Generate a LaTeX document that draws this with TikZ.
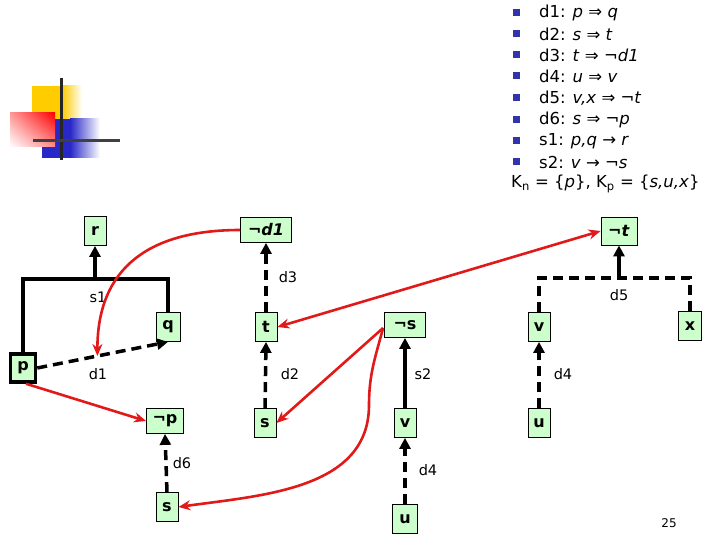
\documentclass[tikz,border=0pt]{standalone}
\usepackage{fontspec}
\setmainfont{DejaVu Sans}
\usetikzlibrary{arrows.meta,calc,shadings}
\definecolor{litgreen}{RGB}{204,255,204}
\definecolor{redline}{RGB}{225,25,25}
\definecolor{bulletblue}{RGB}{51,51,170}
\definecolor{logoyellow}{RGB}{255,204,0}
\definecolor{logoblue}{RGB}{40,40,200}
\tikzset{
  lit/.style={draw, fill=litgreen, line width=0.8pt, minimum width=22, minimum height=29, inner sep=0pt, font=\bfseries\fontsize{16}{16}\selectfont},
  neg/.style={lit, minimum height=25},
  conn/.style={line width=3.5pt},
  dsh/.style={conn, dash pattern=on 10pt off 6pt},
  tipped/.style={-{Triangle[length=11pt,width=11pt]}},
  redarr/.style={redline, line width=2.6pt, -{Stealth[length=12pt,width=10pt]}},
  lab/.style={font=\fontsize{14.5}{14.5}\selectfont, inner sep=0pt},
  item/.style={anchor=west, font=\fontsize{16.5}{16.5}\selectfont, inner sep=0pt},
  bul/.style={fill=bulletblue, minimum size=7pt, inner sep=0pt},
}
\begin{document}
\begin{tikzpicture}[x=1pt,y=-1pt]
\useasboundingbox (0,0) rectangle (720,540);
% logo
\fill[logoyellow] (32,86) rectangle (62,119);
\shade[left color=logoyellow, right color=white] (62,86) rectangle (82,119);
\fill[logoblue] (42,119) rectangle (70,158);
\shade[left color=logoblue, right color=white] (70,119) rectangle (100,158);
\shade[upper right=red, lower left=white, upper left=red!40!white, lower right=red!45!white] (10,113) rectangle (55,147);
\draw[line width=3pt, black!85] (61,78) -- (61,160);
\draw[line width=3pt, black!75] (33,141) -- (120,141);
% legend
\foreach \yy/\nm in {13/b1,34/b2,55/b3,76/b4,98/b5,120/b6,141/b7,162/b8}
  \node[bul] (\nm) at (516,\yy) {};
\node[item] (l1) at (539,13) {d1: \textit{p} ⇒ \textit{q}};
\node[item] (l2) at (539,34) {d2: \textit{s} ⇒ \textit{t}};
\node[item] (l3) at (539,55) {d3: \textit{t} ⇒ ¬\textit{d1}};
\node[item] (l4) at (539,76) {d4: \textit{u} ⇒ \textit{v}};
\node[item] (l5) at (539,98) {d5: \textit{v,x} ⇒ ¬\textit{t}};
\node[item] (l6) at (539,120) {d6: \textit{s} ⇒ ¬\textit{p}};
\node[item] (l7) at (539,141) {s1: \textit{p,q} → \textit{r}};
\node[item] (l8) at (539,162) {s2: \textit{v} → ¬\textit{s}};
\node[item] (l9) at (511,184) {K\textsubscript{n} = \{\textit{p}\}, K\textsubscript{p} = \{\textit{s,u,x}\}};
% nodes
\node[lit] (r) at (95,231) {r};
\node[neg, minimum width=51] (nd1) at (266,230) {¬\textit{d1}};
\node[lit, minimum width=24] (q) at (168,327) {q};
\node[lit] (t) at (266,327) {t};
\node[lit, line width=3.5pt, minimum width=25, minimum height=28] (p) at (23,368) {p};
\node[neg, minimum width=36, minimum height=28] (nt) at (619,231) {¬\textit{t}};
\node[neg, minimum width=41] (ns) at (405,325) {¬s};
\node[lit] (v1) at (539,327) {v};
\node[lit, minimum width=23] (x) at (690,326) {x};
\node[neg, minimum width=37] (np) at (165,421) {¬p};
\node[lit] (s1n) at (265,423) {s};
\node[lit] (v2) at (405,423) {v};
\node[lit] (u2) at (539,423) {u};
\node[lit] (s2n) at (167,507) {s};
\node[lit, minimum width=25] (u1) at (405,519) {u};
% black connectors
\coordinate (s1h) at (95,279);
\draw[conn] (p.north) |- (s1h) -| (q.north);
\draw[conn, tipped] (s1h) -- (r.south);
\node[lab] (ls1) at (98,297) {s1};
\draw[dsh, tipped] (p.east) -- (q.south);
\node[lab] (ld1) at (98,374) {d1};
\draw[dsh, tipped] (t.north) -- (nd1.south);
\node[lab] (ld3) at (288,277) {d3};
\draw[dsh, tipped] (s1n.north) -- (t.south);
\node[lab] (ld2) at (290,374) {d2};
\coordinate (d5h) at (619,278);
\draw[dsh] (v1.north) |- (d5h) -| (x.north);
\draw[conn, tipped] (d5h) -- (nt.south);
\node[lab] (ld5) at (619,295) {d5};
\draw[conn, tipped] (v2.north) -- (ns.south);
\node[lab] (ls2) at (423,374) {s2};
\draw[dsh, tipped] (u2.north) -- (v1.south);
\node[lab] (ld4a) at (563,374) {d4};
\draw[dsh, tipped] (u1.north) -- (v2.south);
\node[lab] (ld4b) at (428,470) {d4};
\draw[dsh, tipped] (s2n.north) -- (np.south);
\node[lab] (ld6) at (182,463) {d6};
% red connectors
\coordinate (d1m) at ($(p.east)!0.46!(q.south)$);
\draw[redarr] (nd1.west) to[out=180, in=90, looseness=1.2] (d1m);
\draw[redarr, {Stealth[length=12pt,width=10pt]}-{Stealth[length=12pt,width=10pt]}] (t.east) -- (nt.west);
\coordinate (nsw) at ($(ns.west)+(-1,3)$);
\draw[redarr] (nsw) -- (s1n.east);
\coordinate (bend) at (369,405);
\draw[redarr] (nsw) to[out=-105, in=90] (bend) to[out=-90, in=8] (s2n.east);
\draw[redarr] ($(p.south)+(3,0)$) -- (np.west);
% page number
\node[font=\fontsize{12}{12}\selectfont, inner sep=0pt] (pg) at (669,523) {25};
\end{tikzpicture}
\end{document}
